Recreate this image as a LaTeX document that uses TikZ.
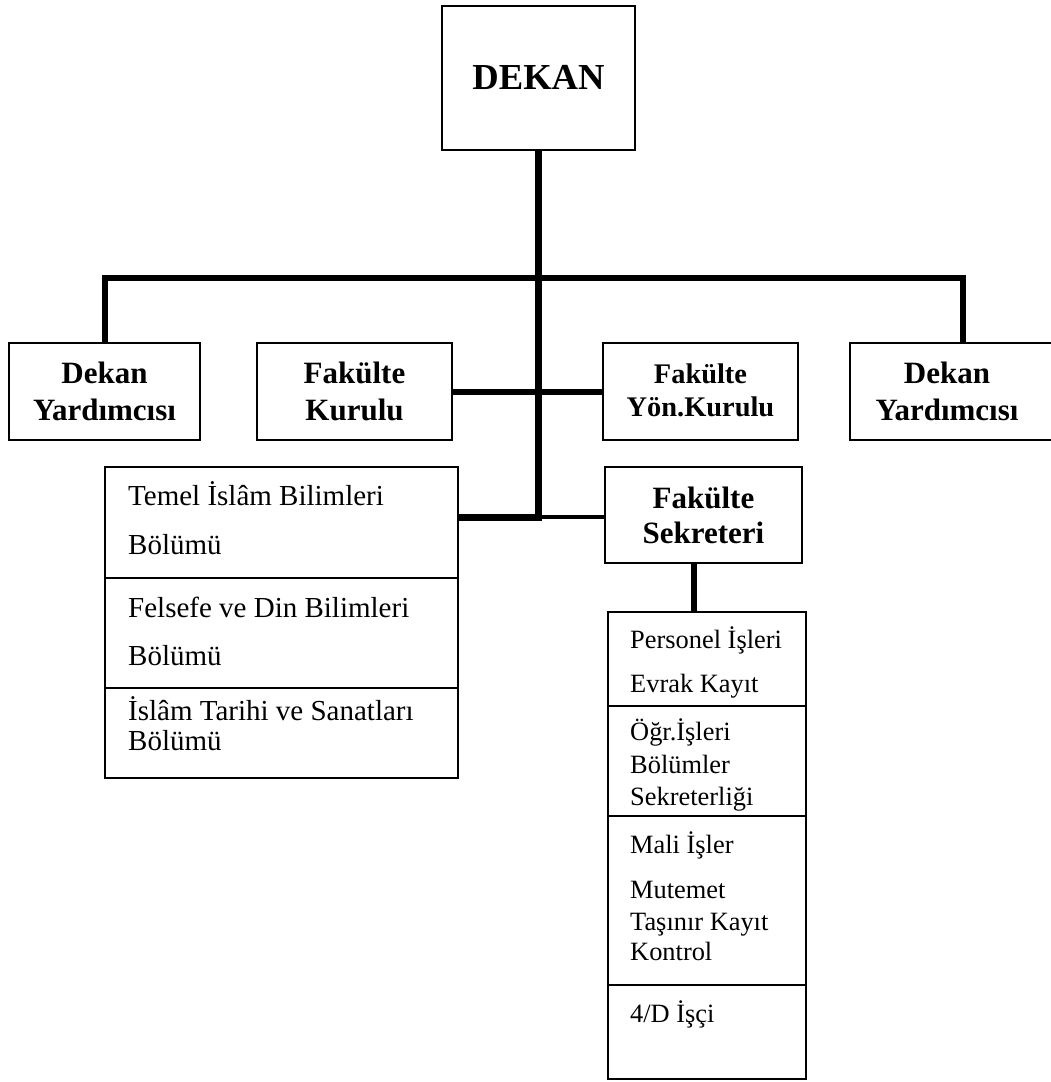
\documentclass[tikz,border=0pt]{standalone}
\usepackage{fontspec}
\setmainfont{Liberation Serif}
\tikzset{
  box/.style={draw, line width=1.6pt, inner sep=0pt, align=center, font=\fontsize{31}{37}\selectfont\bfseries},
  cell/.style={draw, line width=1.6pt, inner sep=0pt},
  ltxt/.style={anchor=base west, inner sep=0pt, font=\fontsize{29}{29}\selectfont},
  rtxt/.style={anchor=base west, inner sep=0pt, font=\fontsize{26.4}{26.4}\selectfont},
  conn/.style={line width=6pt},
}
\begin{document}
\begin{tikzpicture}[x=1pt,y=-1pt]
\useasboundingbox (0,0) rectangle (1051,1082);
\clip (0,0) rectangle (1051,1082);
\fill[white] (0,0) rectangle (1051,1082);

% top boxes
\node[box, minimum width=193pt, minimum height=144pt, font=\fontsize{36.6}{40}\selectfont\bfseries] (dekan) at (538.5,78) {\raisebox{2pt}{DEKAN}};
\node[box, minimum width=191pt, minimum height=97pt] (dy1) at (104.5,391.5) {Dekan\\Yardımcısı};
\node[box, minimum width=195pt, minimum height=97pt] (fk) at (354.5,391.5) {Fakülte\\Kurulu};
\node[box, minimum width=195pt, minimum height=97pt, font=\fontsize{28.4}{33}\selectfont\bfseries] (fyk) at (700.5,391.5) {\raisebox{2pt}{Fakülte}\\\raisebox{2pt}{Yön.Kurulu}};
\node[cell, minimum width=220pt, minimum height=97pt] (dy2) at (960,391.5) {};
\node[box, draw=none] (dy2t) at (947,391.5) {Dekan\\Yardımcısı};
\node[box, minimum width=197pt, minimum height=96pt, font=\fontsize{31}{35}\selectfont\bfseries] (fs) at (703.5,515) {Fakülte\\Sekreteri};

% left column
\node[cell, minimum width=353pt, minimum height=111pt] (tb1) at (281.5,522.5) {};
\node[cell, minimum width=353pt, minimum height=110pt] (tb2) at (281.5,633) {};
\node[cell, minimum width=353pt, minimum height=90pt] (tb3) at (281.5,733) {};
\node[ltxt] (l1a) at (128,505) {Temel İslâm Bilimleri};
\node[ltxt] (l1b) at (128,554) {Bölümü};
\node[ltxt] (l2a) at (128,617) {Felsefe ve Din Bilimleri};
\node[ltxt] (l2b) at (128,665) {Bölümü};
\node[ltxt] (l3a) at (128,720) {İslâm Tarihi ve Sanatları};
\node[ltxt] (l3b) at (128,750) {Bölümü};

% right column
\node[cell, minimum width=198pt, minimum height=94pt] (r1) at (707,659) {};
\node[cell, minimum width=198pt, minimum height=110pt] (r2) at (707,761) {};
\node[cell, minimum width=198pt, minimum height=169pt] (r3) at (707,900.5) {};
\node[cell, minimum width=198pt, minimum height=94pt] (r4) at (707,1032) {};
\node[rtxt] (r1a) at (630,648) {Personel İşleri};
\node[rtxt] (r1b) at (630,692) {Evrak Kayıt};
\node[rtxt] (r2a) at (630,740) {Öğr.İşleri};
\node[rtxt] (r2b) at (630,773) {Bölümler};
\node[rtxt] (r2c) at (630,805) {Sekreterliği};
\node[rtxt] (r3a) at (630,853) {Mali İşler};
\node[rtxt] (r3b) at (630,898) {Mutemet};
\node[rtxt] (r3c) at (630,930) {Taşınır Kayıt};
\node[rtxt] (r3d) at (630,960) {Kontrol};
\node[rtxt] (r4a) at (630,1022) {4/D İşçi};

% connectors
\coordinate (trunkend) at (538.5,520.5);
\coordinate (barL) at (104.5,278);
\coordinate (barR) at (963,278);
\coordinate (lowj) at (538.5,517);
\coordinate (sx) at (694,0);

\draw[line width=7pt] (dekan.south) -- (trunkend);
\draw[conn] (dy1.north) -- (barL) -- (barR) -- (barR |- dy2.north);
\draw[conn] (fk.east) -- (fyk.west);
\draw[line width=7pt] (lowj -| tb1.east) -- (lowj);
\draw[line width=4.5pt] (lowj) -- (lowj -| fs.west);
\draw[conn] (fs.south -| sx) -- (r1.north -| sx);
\end{tikzpicture}
\end{document}
